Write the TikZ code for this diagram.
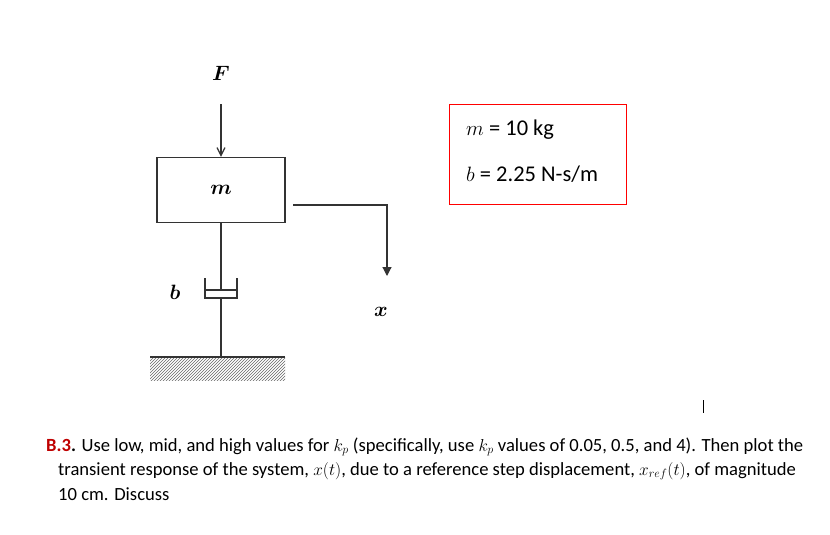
\documentclass[tikz,border=0pt]{standalone}
\usepackage{amsmath,bm}
\usepackage{fontspec}
\setmainfont{Carlito}
\usetikzlibrary{patterns,arrows.meta}
\begin{document}
\begin{tikzpicture}[x=1pt,y=-1pt,
  ln/.style={line width=1.2pt,black!80},
  lbl/.style={font=\fontsize{21}{21}\selectfont,inner sep=0},
  txt/.style={anchor=base west,inner sep=0,font=\fontsize{18.6}{20}\selectfont},
  btxt/.style={anchor=base west,inner sep=0,font=\fontsize{22.5}{24}\selectfont}]
\useasboundingbox (0,0) rectangle (830,535);
\node[lbl] (F) at (221,73) {$\bm{F}$};
\node[draw,ln,minimum width=128,minimum height=65,inner sep=0] (m) at (221,190) {};
\node[lbl] at (221,190) {$\bm{m}$};
\draw[ln,-{Straight Barb[length=8pt,width=8pt]}] (221,104) -- (m.north);
\coordinate (r1) at (293,205);
\coordinate (r2) at (387,205);
\coordinate (r3) at (387,276);
\draw[ln,-{Triangle[length=9pt,width=9pt]}] (r1) -- (r2) -- (r3);
\node[lbl] (x) at (381,312) {$\bm{x}$};
\node[lbl] (b) at (175,292) {$\bm{b}$};
\coordinate (g) at (221,357);
\draw[ln] (m.south) -- (221,290);
\draw[ln] (205,278) -- (205,298) -- (237,298) -- (237,278);
\draw[ln] (205,290) -- (237,290);
\draw[ln] (221,298) -- (g);
\fill[pattern=north east lines,pattern color=black!60] (150,357) rectangle (285,380);
\draw[ln] (150,357) -- (285,357);
\node[draw=red,line width=1pt,minimum width=177,minimum height=100,inner sep=0] (p) at (537.5,154) {};
\node[btxt] at (466,135) {$m$ = 10 kg};
\node[btxt] at (466,181) {$b$ = 2.25 N-s/m};
\draw[line width=1pt] (703,400) -- (703,413);
\node[txt] at (46,451) {\textbf{\textcolor{red!75!black}{B.3}.} Use low, mid, and high values for $k_p$ (specifically, use $k_p$ values of 0.05, 0.5, and 4). Then plot the};
\node[txt] at (58,475) {transient response of the system, $x(t)$, due to a reference step displacement, $x_{ref}(t)$, of magnitude};
\node[txt] at (58,500) {10 cm. Discuss};
\end{tikzpicture}
\end{document}
